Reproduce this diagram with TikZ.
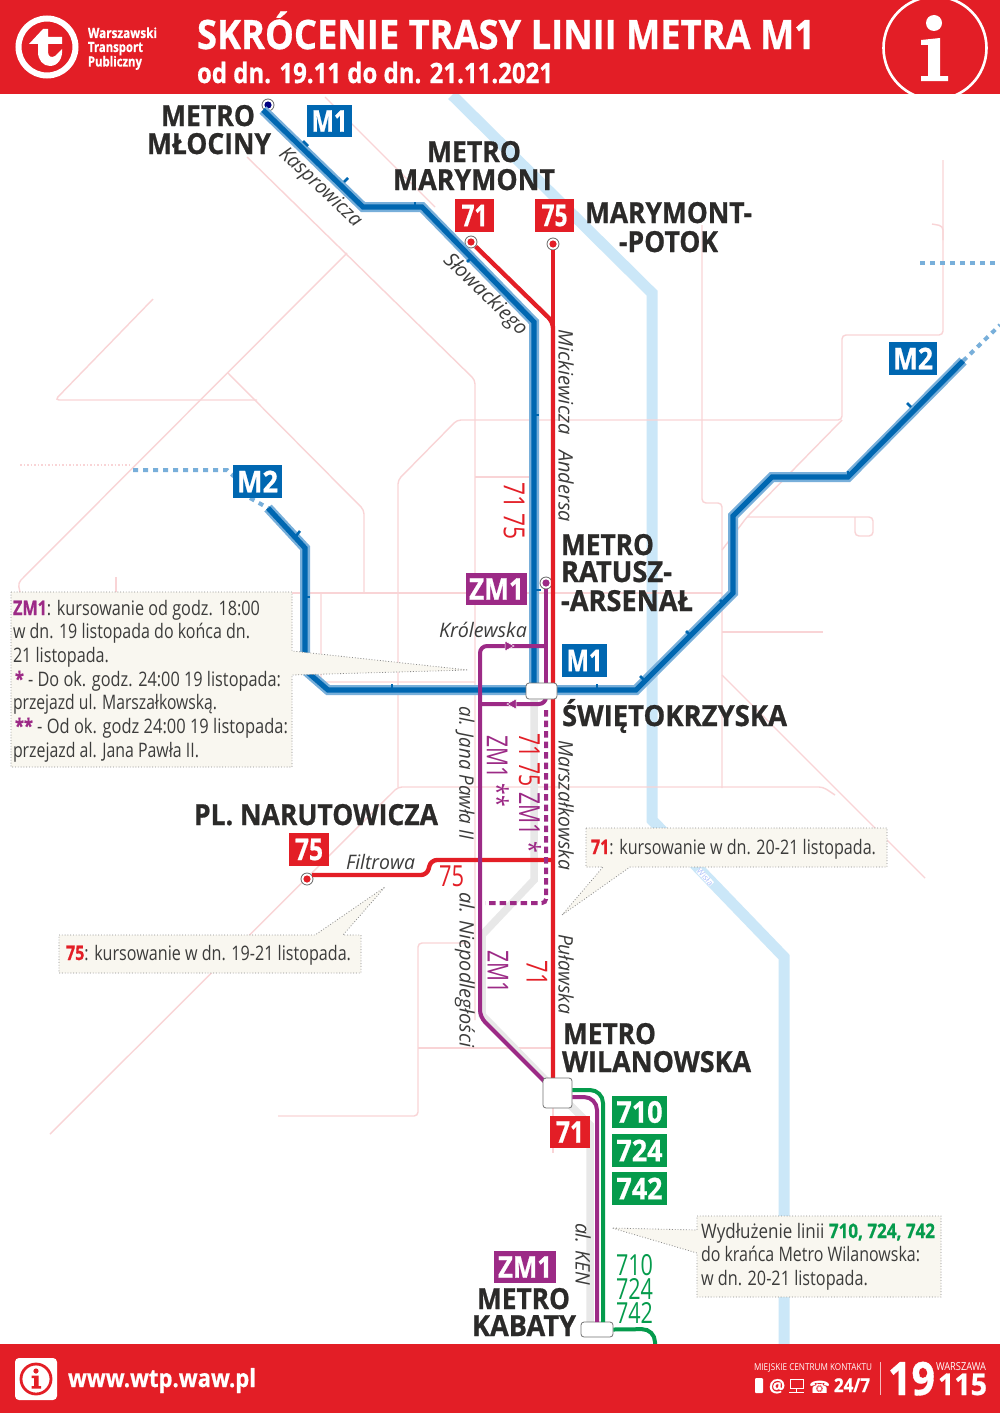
\documentclass[tikz,border=0pt]{standalone}
\usepackage{fontspec}
\usepackage{graphicx}
\setmainfont{Open Sans}[BoldFeatures={FakeBold=0.8}]
\newfontfamily\dejavu{DejaVu Sans}
\definecolor{wred}{HTML}{E31E26}
\definecolor{wblue}{HTML}{0067B1}
\definecolor{whalo}{HTML}{78AFDA}
\definecolor{wriver}{HTML}{CBE7F8}
\definecolor{wpink}{HTML}{F9D4D6}
\definecolor{wzm}{HTML}{9C2A86}
\definecolor{wgreen}{HTML}{059B4C}
\definecolor{wink}{HTML}{2B2A29}
\definecolor{wstreet}{HTML}{3C3C3B}
\definecolor{wnote}{HTML}{F9F7F0}
\definecolor{wshadow}{HTML}{E8E8E8}
\newsavebox\fitbox
\newcommand\fitw[2]{\sbox\fitbox{#2}\pgfmathsetmacro\fitr{#1/\the\wd\fitbox}\scalebox{\fitr}[1]{\usebox\fitbox}}
\newcommand\fs[1]{\fontsize{#1}{#1}\selectfont}
\newcommand\stopm[3]{\node[stopring] (#1) at (#2) {};\fill[#3] (#1.center) circle (3.6pt);}
\tikzset{
  base/.style={inner sep=0,outer sep=0,anchor=base west},
  stat/.style={base,text=wink},
  head/.style={base,text=white},
  mid/.style={inner sep=0,outer sep=0,anchor=center},
  street/.style={mid,text=wstreet},
  rline/.style={mid,text=wred},
  zline/.style={mid,text=wzm},
  note/.style={base,text=wstreet},
  badge/.style={rectangle,inner sep=0,outer sep=0,text=white,font=\bfseries},
  stopring/.style={circle,draw=black!60,line width=0.8pt,fill=white,minimum size=12pt,inner sep=0},
  stationbox/.style={rectangle,rounded corners=3pt,draw=black!55,line width=0.8pt,fill=white,inner sep=0},
  pinkline/.style={draw=wpink,line width=1.4pt,rounded corners=4pt},
  river/.style={draw=wriver,line width=11pt},
  shadowline/.style={draw=wshadow,line width=7.5pt},
  halo/.style={draw=whalo,line width=10pt,line join=miter},
  core/.style={draw=wblue,line width=5.2pt,line join=miter},
  tick/.style={draw=wblue,line width=2.6pt},
  dots/.style={draw=whalo,line width=4pt,dash pattern=on 5pt off 5pt},
  redline/.style={draw=wred,line width=4.4pt,rounded corners=6pt},
  zmline/.style={draw=wzm,line width=4pt,rounded corners=7pt},
  zmdash/.style={draw=wzm,line width=4pt,rounded corners=4pt,dash pattern=on 6.5pt off 4pt},
  greenline/.style={draw=wgreen,line width=4pt,rounded corners=13pt},
  callout/.style={fill=wnote,draw=black!45,line width=0.8pt,dash pattern=on 0.9pt off 1.9pt},
}
\begin{document}
\begin{tikzpicture}[x=1pt,y=-1pt]
\useasboundingbox (0,0) rectangle (1000,1413);
\fill[white] (0,0) rectangle (1000,1413);
% river
\draw[river] (452,95) -- (652,293) -- (652,820) -- (784,957) -- (784,1344);
\node[mid,rotate=-47,text=wriver!75!blue!80!white,fill=white] (tWisla) at (705,877) {\fs{8}Wisła};
% pink street network
\draw[pinkline] (325,97) -- (435,207);
\draw[pinkline] (247,157) -- (475,380) -- (475,1020);
\draw[pinkline] (347,253) -- (18,583) -- (20,592);
\draw[pinkline] (153,299) -- (55,400) -- (257,400);
\draw[pinkline] (228,373) -- (364,510) -- (364,593);
\draw[pinkline] (116,577) -- (116,592);
\draw[pinkline] (290,593) -- (722,593);
\draw[pinkline] (321,593) -- (321,682) -- (475,682);
\draw[pinkline] (50,1134) -- (398,787) -- (823,787) -- (835,795);
\draw[pinkline] (398,787) -- (398,480) -- (457,420) -- (842,420) -- (842,335) -- (943,335) -- (943,160);
\draw[pinkline] (932,224) -- (943,226) -- (943,240);
\draw[pinkline] (842,420) -- (747,517) -- (722,550);
\draw[pinkline] (747,517) -- (873,517) -- (873,536) -- (855,536) -- (855,517);
\draw[pinkline] (702,225) -- (702,503) -- (722,503) -- (722,788);
\draw[pinkline] (722,632) -- (823,632);
\draw[pinkline] (722,675) -- (925,878);
\draw[pinkline] (475,477) -- (530,477);
\draw[pinkline] (418,1048) -- (553,1048);
\draw[pinkline] (470,943) -- (418,943) -- (418,1116) -- (278,1116);
\draw[pinkline] (553,1048) -- (553,1153);
% grey shadow of the tram route
\draw[shadowline] (534,700) -- (534,880) -- (482,935) -- (482,1015) -- (565,1100) -- (590,1125) -- (590,1325);
% stops and stations
\stopm{stMlociny}{268,105}{blue!50!black}
\stopm{stMarymont}{471,242}{wred}
\stopm{stPotok}{553,244}{wred}
\stopm{stRatusz}{546,583}{wzm}
\stopm{stNarut}{307,879}{wred}
\coordinate (m2west) at (268,508);
\coordinate (m2east) at (963,361);
\coordinate (m1north) at (263,110);
% metro
\draw[dots] (133,470) -- (227,470) -- (238,480);
\draw[dots] (250,498) -- (m2west);
\draw[dots] (m2east) -- (1000,325);
\draw[dots] (920,263) -- (1000,263);
\draw[draw=wpink,line width=1.4pt,dash pattern=on 1.5pt off 2pt] (20,465) -- (130,465);
\draw[halo] (m1north) -- (363,207) -- (422,207) -- (534,322) -- (534,692);
\draw[halo] (m2west) -- (305,548) -- (305,670) -- (328,690) -- (636,690) -- (733,593) -- (733,516) -- (772,477) -- (848,477) -- (m2east);
\draw[core] (m1north) -- (363,207) -- (422,207) -- (534,322) -- (534,692);
\draw[core] (m2west) -- (305,548) -- (305,670) -- (328,690) -- (636,690) -- (733,593) -- (733,516) -- (772,477) -- (848,477) -- (m2east);
\foreach \a/\b/\c/\d in {303/141/308/146,344/182/348/178,415/207/415/202,467/262/471/258,534/415/539/415,534/590/541/590,300/531/296/536,305/597/310/597,392/690/392/684,597/690/597/684,640/676/644/680,686/631/690/635,720/600/724/604,848/477/848/471,911/407/907/403}
  \draw[tick] (\a,\b) -- (\c,\d);
% red lines
\draw[redline] (stMarymont) -- (553,322) -- (553,1080);
\draw[redline] (stPotok) -- (553,330);
\coordinate (narE) at (312,875);
\draw[redline] (narE) -- (427,875) -- (431,860) -- (553,860);
% ZM1
\draw[zmline] (stRatusz) -- (546,690);
\draw[zmline] (546,646) -- (480,646) -- (480,1017) -- (545,1082);
\draw[zmline] (480,704) -- (546,704) -- (546,690);
\draw[zmdash] (546,710) -- (546,903) -- (485,903);
\fill[wzm,draw=white,line width=0.5pt] (505,641) -- (514,646) -- (505,651) -- cycle;
\fill[wzm,draw=white,line width=0.5pt] (516,699) -- (507,704) -- (516,709) -- cycle;
% stations
\node[stationbox,minimum width=31pt,minimum height=16pt] (stSwiet) at (541.5,691) {};
\node[stationbox,minimum width=29pt,minimum height=30pt] (stWilan) at (557.5,1093) {};
\node[stationbox,minimum width=32pt,minimum height=15pt] (stKabaty) at (597,1329.5) {};
\draw[draw=wzm,line width=4pt,rounded corners=13pt] (stWilan.east |- 0,1097) -- (597,1097) -- (597,1322);
\draw[greenline] (stWilan.east |- 0,1090) -- (603,1090) -- (603,1322);
\draw[greenline] (stKabaty.east) -- (655,1329) -- (655,1344);
% notes
\draw[callout] (11,592) -- (292,592) -- (292,651) -- (468,670) -- (292,675) -- (292,767) -- (11,767) -- cycle;
\draw[callout] (59,935) -- (315,935) -- (385,887) -- (343,935) -- (361,935) -- (361,973) -- (59,973) -- cycle;
\draw[callout] (586,828) -- (887,828) -- (887,867) -- (630,867) -- (562,915) -- (603,867) -- (586,867) -- cycle;
\draw[callout] (697,1216) -- (941,1216) -- (941,1297) -- (697,1297) -- (697,1253) -- (612,1228) -- (697,1230) -- cycle;
\node[note] (n1a) at (13,615) {\fitw{247}{\fs{20}{\bfseries\color{wzm}ZM1}: kursowanie od godz. 18:00}};
\node[note] (n1b) at (13,638) {\fitw{237}{\fs{20}w dn. 19 listopada do końca dn.}};
\node[note] (n1c) at (13,662) {\fitw{96}{\fs{20}21 listopada.}};
\node[note] (n1d) at (15,686) {\fitw{266}{\fs{20}{\bfseries\color{wzm}*} - Do ok. godz. 24:00 19 listopada:}};
\node[note] (n1e) at (13,709) {\fitw{204}{\fs{20}przejazd ul. Marszałkowską.}};
\node[note] (n1f) at (15,733) {\fitw{273}{\fs{20}{\bfseries\color{wzm}**} - Od ok. godz 24:00 19 listopada:}};
\node[note] (n1g) at (13,757) {\fitw{186}{\fs{20}przejazd al. Jana Pawła II.}};
\node[note] (n2) at (66,960) {\fitw{285}{\fs{20}{\bfseries\color{wred}75}: kursowanie w dn. 19-21 listopada.}};
\node[note] (n3) at (591,854) {\fitw{285}{\fs{20}{\bfseries\color{wred}71}: kursowanie w dn. 20-21 listopada.}};
\node[note] (n4a) at (701,1238) {\fitw{234}{\fs{20}Wydłużenie linii {\bfseries\color{wgreen}710, 724, 742}}};
\node[note] (n4b) at (701,1261) {\fitw{219}{\fs{20}do krańca Metro Wilanowska:}};
\node[note] (n4c) at (701,1285) {\fitw{167}{\fs{20}w dn. 20-21 listopada.}};
% header
\fill[wred] (0,0) rectangle (1000,94);
\fill[wred] (0,1344) rectangle (1000,1413);
\draw[white,line width=6pt] (47,47) circle (28.5pt);
\fill[white] (29,44) -- (43,29) -- (48,29) -- (48,37) -- (62,37) -- (62,44) -- (48,44) -- (48,52) .. controls (48,57) and (52,58) .. (55,56) -- (62,49) .. controls (63,58) and (58,66) .. (50,66) .. controls (43,66) and (38,60) .. (38,52) -- (38,44) -- cycle;
\node[head] (tW1) at (88,38) {\fitw{69}{\fs{14}\bfseries Warszawski}};
\node[head] (tW2) at (88,52) {\fitw{55}{\fs{14}\bfseries Transport}};
\node[head] (tW3) at (88,66.5) {\fitw{54}{\fs{14}\bfseries Publiczny}};
\node[head] (tTitle) at (197,49) {\fitw{618}{\fs{40.5}\bfseries SKRÓCENIE TRASY LINII METRA M1}};
\node[head] (tSub) at (197,83) {\fitw{356}{\fs{28}\bfseries od dn. 19.11 do dn. 21.11.2021}};
\begin{scope}
\clip (880,0) rectangle (1000,94.5);
\draw[white,line width=2.6pt] (935,48) circle (51.5pt);
\end{scope}
\fill[white] (934,23) circle (8pt);
\fill[white] (921,40) -- (940,38) -- (940,76) -- (948,76) -- (948,81) -- (921,81) -- (921,76) -- (928,76) -- (928,45) -- (921,45) -- cycle;
% footer
\fill[white,rounded corners=4pt] (15,1358) rectangle (57,1400);
\draw[wred,line width=2.8pt] (36,1379) circle (15pt);
\fill[wred] (36,1371) circle (2.6pt);
\fill[wred] (31.5,1375.5) -- (38.5,1375.5) -- (38.5,1386) -- (41,1386) -- (41,1388.5) -- (31.5,1388.5) -- (31.5,1386) -- (34,1386) -- (34,1378) -- (31.5,1378) -- cycle;
\node[head] (tWww) at (68,1387) {\fitw{188}{\fs{25}\bfseries www.wtp.waw.pl}};
\node[head] (tCk) at (754,1370) {\fitw{118}{\fs{9.5}MIEJSKIE CENTRUM KONTAKTU}};
\fill[white,rounded corners=1pt] (755,1378) rectangle (763,1393);
\node[head] (tAt) at (769,1392) {\fs{18}\bfseries @};
\draw[white,line width=1pt] (790,1379) rectangle (803,1388);
\draw[white,line width=1.4pt] (796.5,1388) -- (796.5,1392) (789,1392.5) -- (804,1392.5);
\node[head] (tTel) at (809,1393) {\dejavu\fs{17}☎};
\node[head] (t247) at (834,1392) {\fitw{36}{\fs{19}\bfseries 24/7}};
\draw[white!70!wred,line width=0.8pt] (880.5,1362) -- (880.5,1395);
\node[head] (t19) at (888,1395) {\fitw{47}{\fs{46}\bfseries 19}};
\node[head] (tWa) at (936,1370) {\fitw{50}{\fs{11}WARSZAWA}};
\node[head] (t115) at (938,1395) {\fitw{49}{\fs{30}\bfseries 115}};
% badges
\newcommand\bdg[8]{\node[badge,fill=#2,minimum width=#5pt,minimum height=#6pt] (#1) at (#3+#5/2,#4+#6/2) {\fitw{#7}{\fs{30}#8}};}
\bdg{bM1a}{wblue}{307}{105}{45}{32}{36}{M1}
\bdg{b71a}{wred}{455}{199}{39}{33}{26}{71}
\bdg{b75a}{wred}{535}{199}{39}{33}{26}{75}
\bdg{bM2a}{wblue}{889}{342}{48}{33}{40}{M2}
\bdg{bM2b}{wblue}{233}{465}{49}{33}{41}{M2}
\bdg{bZa}{wzm}{466}{573}{61}{32}{55}{ZM1}
\bdg{bM1b}{wblue}{562}{644}{45}{33}{36}{M1}
\bdg{b75b}{wred}{289}{833}{40}{33}{28}{75}
\bdg{b71b}{wred}{550}{1116}{40}{32}{28}{71}
\bdg{b710}{wgreen}{612}{1096}{55}{32}{46}{710}
\bdg{b724}{wgreen}{612}{1134}{55}{33}{46}{724}
\bdg{b742}{wgreen}{612}{1172}{55}{33}{46}{742}
\bdg{bZb}{wzm}{494}{1251}{62}{32}{54}{ZM1}
% station names
\newcommand\snm[5]{\node[stat] (#1) at (#2,#3) {\fitw{#4}{\fs{29}\bfseries #5}};}
\snm{s1a}{161}{126}{94}{METRO}
\snm{s1b}{147}{154}{124}{MŁOCINY}
\snm{s2a}{427}{162}{94}{METRO}
\snm{s2b}{393}{190}{162}{MARYMONT}
\snm{s3a}{585}{223}{167}{MARYMONT-}
\snm{s3b}{619}{252}{99}{-POTOK}
\snm{s4a}{561}{555}{93}{METRO}
\snm{s4b}{561}{582}{111}{RATUSZ-}
\snm{s4c}{561}{611}{132}{-ARSENAŁ}
\snm{s5}{562}{726}{225}{ŚWIĘTOKRZYSKA}
\snm{s6a}{563}{1044}{93}{METRO}
\snm{s6b}{562}{1072}{189}{WILANOWSKA}
\snm{s7a}{477}{1309}{93}{METRO}
\snm{s7b}{472}{1336}{104}{KABATY}
\snm{s8}{194}{825}{244}{PL. NARUTOWICZA}
% street names
\node[street,rotate=-43.5] (u1) at (320,188) {\fitw{106}{\fs{20}\itshape Kasprowicza}};
\node[street,rotate=-44] (u2) at (485,295) {\fitw{108}{\fs{20}\itshape Słowackiego}};
\node[street,rotate=-90] (u3) at (566,382) {\fitw{105}{\fs{20}\itshape Mickiewicza}};
\node[street,rotate=-90] (u4) at (566,486) {\fitw{72}{\fs{20}\itshape Andersa}};
\node[street,rotate=-90] (u5) at (566,805) {\fitw{130}{\fs{20}\itshape Marszałkowska}};
\node[street,rotate=-90] (u6) at (566,974) {\fitw{80}{\fs{20}\itshape Puławska}};
\node[street,rotate=-90] (u7) at (583,1254) {\fitw{62}{\fs{20}\itshape al. KEN}};
\node[street,rotate=-90] (u8) at (465,773) {\fitw{133}{\fs{20}\itshape al. Jana Pawła II}};
\node[street,rotate=-90] (u9) at (465,970) {\fitw{155}{\fs{20}\itshape al. Niepodległości}};
\node[street,anchor=base west] (u10) at (439,637) {\fitw{88}{\fs{20}\itshape Królewska}};
\node[street,anchor=base west] (u11) at (346,869) {\fitw{69}{\fs{20}\itshape Filtrowa}};
% line numbers along the routes
\node[rline,rotate=-90] (r1) at (514,511) {\fitw{58}{\fs{29}71 75}};
\node[rline,rotate=-90] (r2) at (530,793) {\fitw{120}{\fs{29}71 75 {\color{wzm}ZM1 *}}};
\node[zline,rotate=-90] (r3) at (498,771) {\fitw{72}{\fs{29}ZM1 **}};
\node[zline,rotate=-90] (r4) at (498,972) {\fitw{43}{\fs{29}ZM1}};
\node[rline,rotate=-90] (r5) at (537,973) {\fitw{25}{\fs{29}71}};
\node[base,text=wred] (r6) at (439,886) {\fitw{25}{\fs{29}75}};
\node[base,text=wgreen] (g1) at (616,1275) {\fitw{37}{\fs{29}710}};
\node[base,text=wgreen] (g2) at (616,1299) {\fitw{37}{\fs{29}724}};
\node[base,text=wgreen] (g3) at (616,1323) {\fitw{37}{\fs{29}742}};
\end{tikzpicture}
\end{document}
